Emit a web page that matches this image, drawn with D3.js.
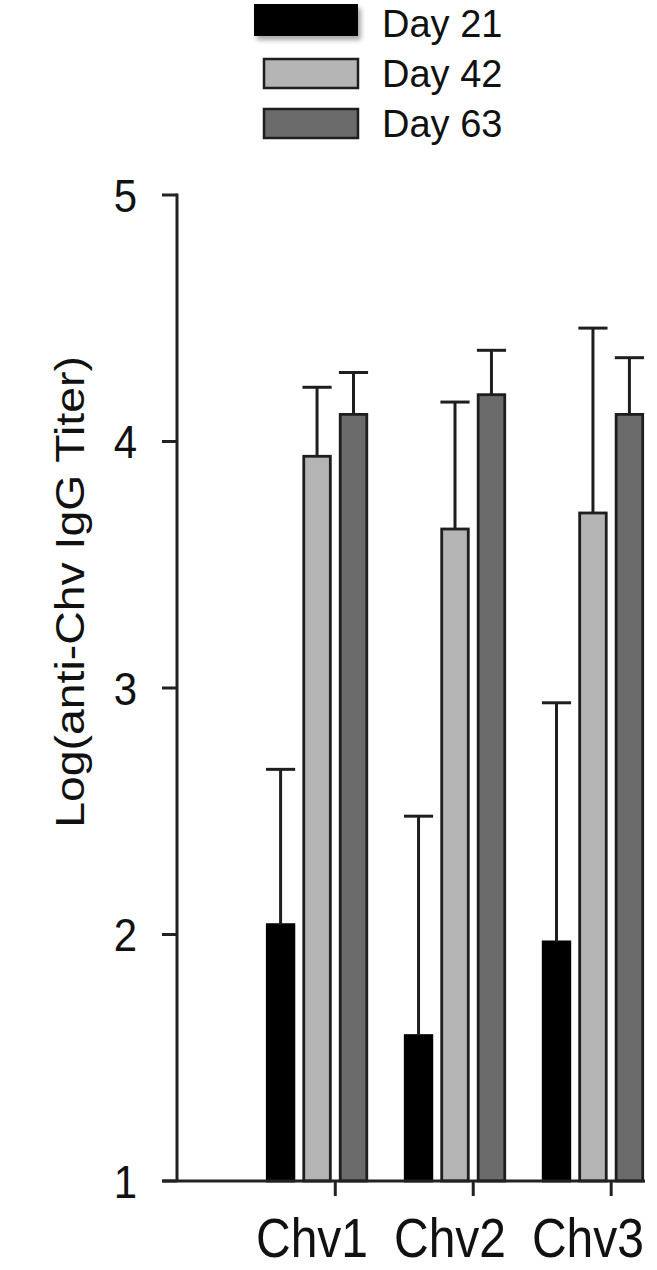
<!DOCTYPE html>
<html>
<head>
<meta charset="utf-8">
<script src="https://cdn.jsdelivr.net/npm/d3@7"></script>
<style>
  html, body { margin: 0; padding: 0; background: #fff; }
  svg text { font-family: "Liberation Sans", Arial, sans-serif; fill: #111; }
</style>
</head>
<body>
<div id="chart"></div>
<script>
// data
const categories = ["Chv1", "Chv2", "Chv3"];
const series = ["Day 21", "Day 42", "Day 63"];
const day21 = [2.04, 1.59, 1.97];
const day21Err = [0.63, 0.89, 0.97];
const day42 = [3.94, 3.645, 3.71];
const day42Err = [0.28, 0.515, 0.75];
const day63 = [4.11, 4.19, 4.11];
const day63Err = [0.17, 0.18, 0.23];
const yTicks = [1, 2, 3, 4, 5];
const yLabel = "Log(anti-Chv IgG Titer)";

const values = [day21, day42, day63];
const errors = [day21Err, day42Err, day63Err];
const colors = ["#000000", "#b4b4b4", "#6b6b6b"];

const width = 657;
const height = 1270;

const svg = d3.select("#chart")
    .append("svg")
    .attr("width", width)
    .attr("height", height);

const y = d3.scaleLinear().domain([1, 5]).range([1181, 195]);

const x0 = d3.scaleBand()
    .domain(categories)
    .range([266, 644])
    .paddingInner(0.26)
    .paddingOuter(0);

const x1 = d3.scaleBand()
    .domain(series)
    .range([0, x0.bandwidth()])
    .paddingInner(0.2);

// flat rows for bars
const rows = [];
categories.forEach((c, i) => {
    series.forEach((s, j) => {
        rows.push({ cat: c, ser: s, v: values[j][i], e: errors[j][i], color: colors[j], k: j });
    });
});

const axisColor = "#222";

// bars
const bars = svg.append("g");
bars.selectAll("rect")
    .data(rows)
    .enter().append("rect")
    .attr("x", d => x0(d.cat) + x1(d.ser) + 1.3)
    .attr("y", d => y(d.v))
    .attr("width", x1.bandwidth() - 2.6)
    .attr("height", d => y(1) - y(d.v))
    .attr("fill", d => d.color)
    .attr("stroke", d => d.k === 0 ? "#000" : "#1e1e1e")
    .attr("stroke-width", 2.8);

// error bars (upper only)
const err = svg.append("g")
    .attr("stroke", "#1e1e1e")
    .attr("stroke-width", 3);

err.selectAll("line.stem")
    .data(rows)
    .enter().append("line")
    .attr("class", "stem")
    .attr("x1", d => x0(d.cat) + x1(d.ser) + x1.bandwidth() / 2)
    .attr("x2", d => x0(d.cat) + x1(d.ser) + x1.bandwidth() / 2)
    .attr("y1", d => y(d.v))
    .attr("y2", d => y(d.v + d.e));

err.selectAll("line.cap")
    .data(rows)
    .enter().append("line")
    .attr("class", "cap")
    .attr("x1", d => x0(d.cat) + x1(d.ser))
    .attr("x2", d => x0(d.cat) + x1(d.ser) + x1.bandwidth())
    .attr("y1", d => y(d.v + d.e))
    .attr("y2", d => y(d.v + d.e));

// y axis
const axisX = 177;
const yAxis = svg.append("g");
yAxis.append("line")
    .attr("x1", axisX).attr("x2", axisX)
    .attr("y1", y(5) - 1.5).attr("y2", y(1))
    .attr("stroke", axisColor).attr("stroke-width", 3);

yAxis.selectAll("line.tick")
    .data(yTicks)
    .enter().append("line")
    .attr("class", "tick")
    .attr("x1", axisX - 15).attr("x2", axisX)
    .attr("y1", d => y(d)).attr("y2", d => y(d))
    .attr("stroke", axisColor).attr("stroke-width", 3);

yAxis.selectAll("text")
    .data(yTicks)
    .enter().append("text")
    .attr("transform", d => `translate(137,${y(d)}) scale(1,1.12)`)
    .attr("dy", "0.36em")
    .attr("text-anchor", "end")
    .attr("font-size", 42)
    .text(d => d);

// y axis title
svg.append("text")
    .attr("transform", "translate(84,592) scale(1,1.16) rotate(-90)")
    .attr("text-anchor", "middle")
    .attr("font-size", 40)
    .text(yLabel);

// x axis
const xAxis = svg.append("g");
xAxis.append("line")
    .attr("x1", axisX - 15).attr("x2", 645)
    .attr("y1", y(1)).attr("y2", y(1))
    .attr("stroke", axisColor).attr("stroke-width", 3);

const tickX = c => x0(c) + x1("Day 63") - (x1.step() - x1.bandwidth()) / 2;

xAxis.selectAll("line.tick")
    .data(categories)
    .enter().append("line")
    .attr("class", "tick")
    .attr("x1", tickX).attr("x2", tickX)
    .attr("y1", y(1)).attr("y2", y(1) + 15)
    .attr("stroke", axisColor).attr("stroke-width", 3);

xAxis.selectAll("text")
    .data(categories)
    .enter().append("text")
    .attr("transform", c => `translate(${x0(c) + x0.bandwidth() / 2 - 5},1257) scale(1,1.15)`)
    .attr("text-anchor", "middle")
    .attr("font-size", 48)
    .text(c => c);

// legend
const defs = svg.append("defs");
const blur = defs.append("filter").attr("id", "soft")
    .attr("x", "-10%").attr("y", "-20%").attr("width", "125%").attr("height", "160%");
blur.append("feGaussianBlur").attr("in", "SourceAlpha").attr("stdDeviation", 2.5).attr("result", "b");
blur.append("feOffset").attr("in", "b").attr("dx", 3).attr("dy", 4).attr("result", "o");
blur.append("feComponentTransfer").attr("in", "o").attr("result", "s")
    .append("feFuncA").attr("type", "linear").attr("slope", 0.35);
const merge = blur.append("feMerge");
merge.append("feMergeNode").attr("in", "s");
merge.append("feMergeNode").attr("in", "SourceGraphic");

const legend = svg.append("g");
const legendRows = series.map((s, j) => ({ s: s, color: colors[j], k: j }));
const legendY = [37, 87, 137];

legend.selectAll("rect")
    .data(legendRows)
    .enter().append("rect")
    .attr("x", d => d.k === 0 ? 254 : 264)
    .attr("y", d => d.k === 0 ? 4 : legendY[d.k] - 28)
    .attr("width", d => d.k === 0 ? 104 : 94)
    .attr("height", d => d.k === 0 ? 32 : 29)
    .attr("fill", d => d.color)
    .attr("stroke", d => d.k === 0 ? "none" : "#1e1e1e")
    .attr("stroke-width", 2.5)
    .attr("filter", d => d.k === 0 ? "url(#soft)" : null);

legend.selectAll("text")
    .data(legendRows)
    .enter().append("text")
    .attr("x", 382)
    .attr("y", d => legendY[d.k])
    .attr("font-size", 38)
    .text(d => d.s);
</script>
</body>
</html>
